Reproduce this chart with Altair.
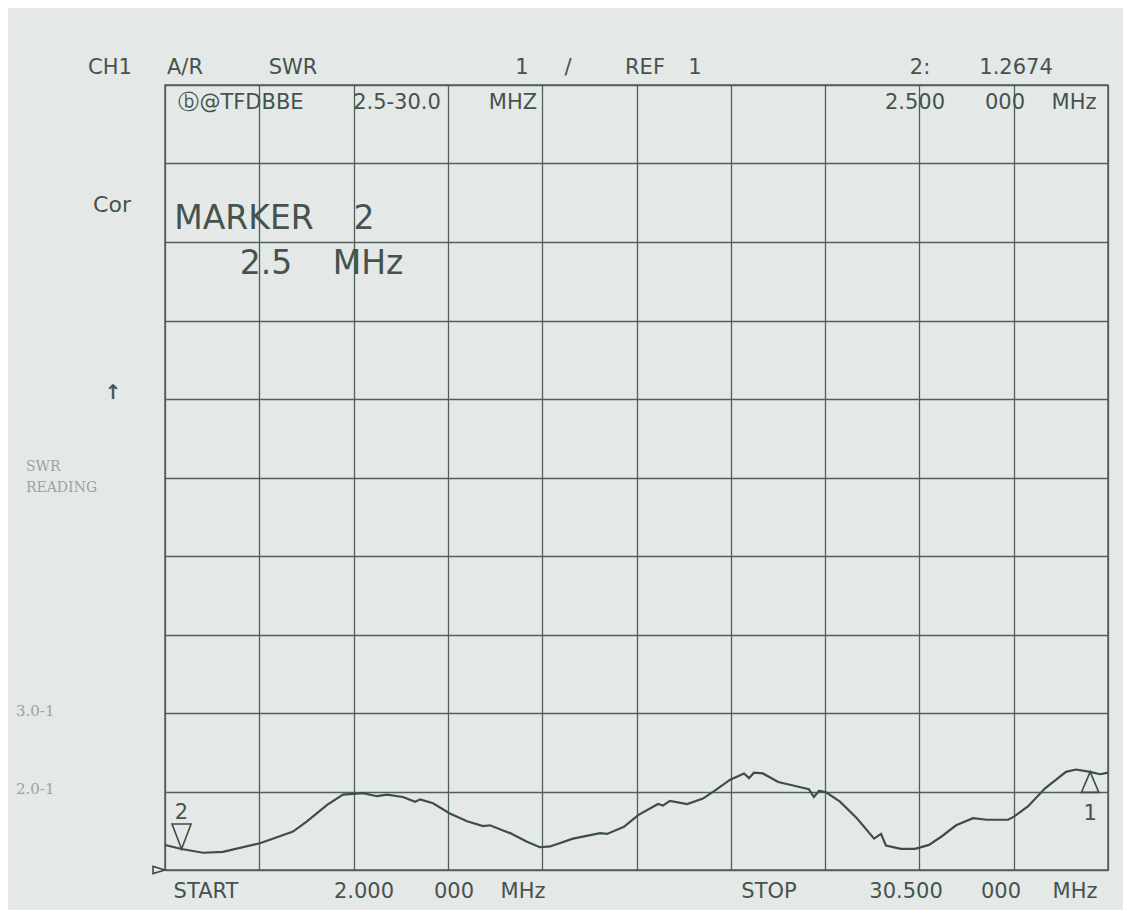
import altair as alt
import pandas as pd

# ---------------- data ----------------
freq_mhz = [2.00, 2.50, 3.15, 3.75, 4.87, 5.87, 6.29, 6.90, 7.38, 7.98,
            8.41, 8.71, 9.19, 9.56, 9.71, 10.10, 10.61, 11.13, 11.61, 11.82,
            12.43, 12.94, 13.33, 13.64, 14.33, 15.15, 15.36, 15.87, 16.30, 16.90,
            17.05, 17.26, 17.78, 18.26, 18.65, 19.08, 19.50, 19.65, 19.80, 20.07,
            20.53, 20.95, 21.46, 21.61, 21.77, 21.98, 22.40, 22.91, 23.43, 23.64,
            23.79, 24.24, 24.67, 25.09, 25.48, 25.91, 26.42, 26.84, 27.48, 27.66,
            28.08, 28.60, 29.23, 29.53, 29.96, 30.26, 30.50]
swr_reading = [1.318, 1.267, 1.22, 1.23, 1.34, 1.49, 1.62, 1.83, 1.96, 1.98,
               1.94, 1.96, 1.93, 1.87, 1.90, 1.85, 1.72, 1.62, 1.56, 1.57,
               1.47, 1.36, 1.29, 1.30, 1.40, 1.47, 1.46, 1.55, 1.70, 1.84,
               1.82, 1.88, 1.84, 1.91, 2.02, 2.15, 2.23, 2.17, 2.24, 2.23,
               2.12, 2.08, 2.03, 1.93, 2.01, 1.99, 1.87, 1.66, 1.40, 1.46,
               1.31, 1.27, 1.27, 1.32, 1.43, 1.57, 1.66, 1.64, 1.64, 1.68,
               1.81, 2.04, 2.25, 2.28, 2.25, 2.22, 2.24]

x_grid = [2.0, 4.85, 7.7, 10.55, 13.4, 16.25, 19.1, 21.95, 24.8, 27.65, 30.5]
y_grid = [1, 2, 3, 4, 5, 6, 7, 8, 9, 10, 11]

marker2_freq, marker2_swr = [2.5], [1.2674]
marker1_freq, marker1_swr = [29.96], [2.25]
ref_freq, ref_swr = [2.0], [1.0]

# ---------------- layout / style ----------------
X0, Y0 = 165, 85          # plot origin in page pixels
W, H = 943, 785
BG = "#e4e9e7"
GRID = "#4f5f5a"
INK = "#3c4e48"
TXT = "#44534e"
NOTE = "#9aa4a0"
FONT = "DejaVu Sans"
NOTE_FONT = "DejaVu Serif"

xs = alt.Scale(domain=[2, 30.5], nice=False, zero=False)
ys = alt.Scale(domain=[1, 11], nice=False, zero=False)

x_axis = alt.Axis(values=x_grid, grid=True, labels=False, ticks=False, domain=False,
                  title=None, gridColor=GRID, gridWidth=1.3, gridOpacity=1)
y_axis = alt.Axis(values=y_grid, grid=True, labels=False, ticks=False, domain=False,
                  title=None, gridColor=GRID, gridWidth=1.3, gridOpacity=1)

curve_df = pd.DataFrame({"f": freq_mhz, "s": swr_reading})
line = alt.Chart(curve_df).mark_line(color=INK, strokeWidth=2.2).encode(
    x=alt.X("f:Q", scale=xs, axis=x_axis),
    y=alt.Y("s:Q", scale=ys, axis=y_axis),
)


def marker(fr, sv, shape, size, lbl, dy):
    df = pd.DataFrame({"f": fr, "s": sv, "t": [lbl] * len(fr)})
    base = alt.Chart(df).encode(x=alt.X("f:Q", scale=xs), y=alt.Y("s:Q", scale=ys))
    tri = base.mark_point(shape=shape, size=size, filled=False, color=INK,
                          strokeWidth=1.6, opacity=1)
    if lbl:
        txt = base.mark_text(dy=dy, fontSize=21, font=FONT, color=TXT).encode(text="t:N")
        return [tri, txt]
    return [tri]


m2 = marker(marker2_freq, marker2_swr, "M0,0L-0.76,-2L0.76,-2Z", 625, "2", -36)
m1 = marker(marker1_freq, marker1_swr, "M0,0L-0.85,2L0.85,2Z", 420, "1", 42)
mref = marker(ref_freq, ref_swr, "M0,0L-1.5,-0.45L-1.5,0.45Z", 256, "", 0)


def label(text, x, y, size=21, align="center", font=FONT, color=TXT, weight="normal"):
    df = pd.DataFrame({"t": [text]})
    return alt.Chart(df).mark_text(
        align=align, baseline="middle", fontSize=size, font=font,
        color=color, fontWeight=weight
    ).encode(x=alt.value(x - X0), y=alt.value(y - Y0), text="t:N")


texts = [
    # header line
    label("CH1", 110, 68), label("A/R", 185, 68), label("SWR", 293, 68),
    label("1", 522, 68), label("/", 568, 68), label("REF", 645, 68), label("1", 695, 68),
    label("2:", 920, 68), label("1.2674", 1016, 68),
    # title line inside the grid
    label("ⓑ@TFDBBE", 241, 103), label("2.5-30.0", 397, 103), label("MHZ", 513, 103),
    label("2.500", 915, 103), label("000", 1005, 103), label("MHz", 1074, 103),
    # marker readout
    label("Cor", 112, 205, size=22),
    label("MARKER", 244, 219, size=33), label("2", 364, 219, size=33),
    label("2.5", 266, 264, size=33), label("MHz", 368, 264, size=33),
    # footer
    label("START", 206, 892), label("2.000", 364, 892), label("000", 454, 892),
    label("MHz", 523, 892), label("STOP", 769, 892), label("30.500", 906, 892),
    label("000", 1001, 892), label("MHz", 1075, 892),
    # hand typed notes on the left
    label("↑", 113, 393, size=20, color="#4a5551", weight="bold"),
    label("SWR", 26, 467, size=14, align="left", font=NOTE_FONT, color=NOTE),
    label("READING", 26, 488, size=14, align="left", font=NOTE_FONT, color=NOTE),
    label("3.0-1", 16, 711, size=15, align="left", font=NOTE_FONT, color=NOTE),
    label("2.0-1", 16, 789, size=15, align="left", font=NOTE_FONT, color=NOTE),
]

chart = alt.layer(line, *m2, *m1, *mref, *texts).properties(
    width=W, height=H,
    autosize=alt.AutoSizeParams(type="none"),
    padding={"left": X0 - 8, "top": Y0 - 8, "right": 15, "bottom": 40},
    background=BG,
).configure_view(stroke=GRID, strokeWidth=1.5)

chart.save("out.html", embed_options={"renderer": "svg", "actions": False})
